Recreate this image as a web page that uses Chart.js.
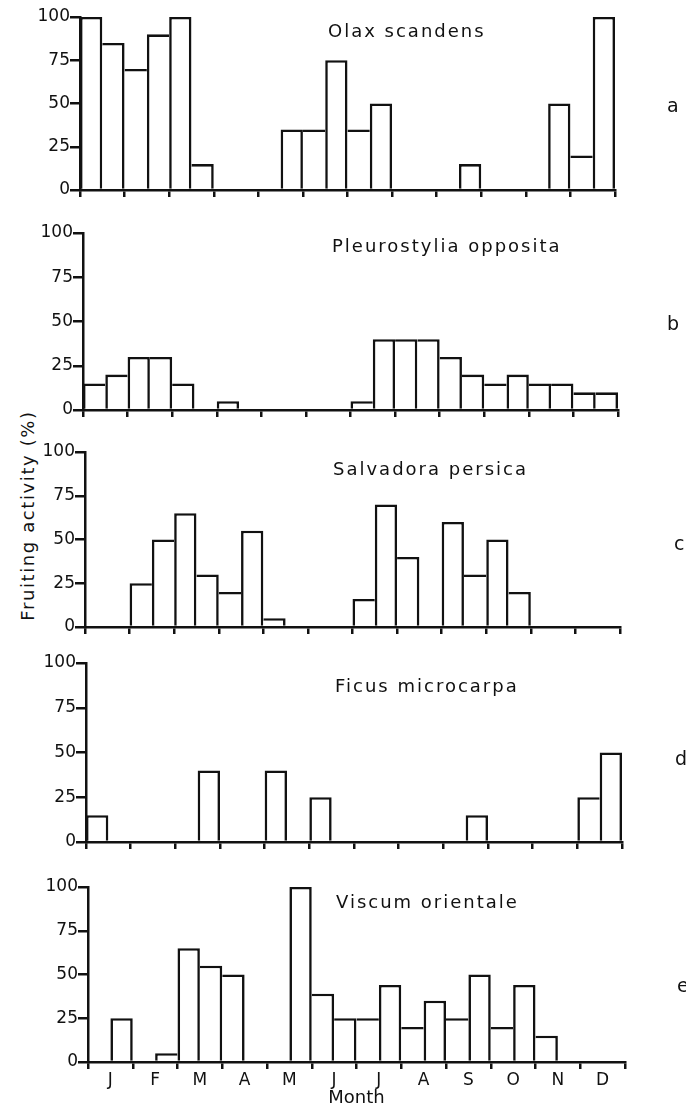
<!DOCTYPE html>
<html>
<head>
<meta charset="utf-8">
<script src="https://cdn.jsdelivr.net/npm/chart.js@4"></script>
<style>
  body { margin: 0; background: #fff; width: 686px; height: 1109px; position: relative; overflow: hidden; }
  canvas { position: absolute; left: 0; }
  #ytitle {
    position: absolute; left: -93px; top: 505px; width: 240px; text-align: center;
    font: 18px "DejaVu Sans", sans-serif; letter-spacing: 1.6px; color: #111;
    transform: rotate(-90deg);
  }
</style>
</head>
<body>
<div id="ytitle">Fruiting activity (%)</div>
<script>
// half-month bins, Jan to Dec
const halfMonths = ['Jan 1','Jan 2','Feb 1','Feb 2','Mar 1','Mar 2','Apr 1','Apr 2','May 1','May 2','Jun 1','Jun 2',
                    'Jul 1','Jul 2','Aug 1','Aug 2','Sep 1','Sep 2','Oct 1','Oct 2','Nov 1','Nov 2','Dec 1','Dec 2'];
const monthLetters = ['J','F','M','A','M','J','J','A','S','O','N','D'];
const yTicks = [0, 25, 50, 75, 100];
const species = ['Olax scandens', 'Pleurostylia opposita', 'Salvadora persica', 'Ficus microcarpa', 'Viscum orientale'];
const panelLetters = ['a', 'b', 'c', 'd', 'e'];

const olax         = [100, 85, 70, 90, 100, 15, 0, 0, 0, 35, 35, 75, 35, 50, 0, 0, 0, 15, 0, 0, 0, 50, 20, 100];
const pleurostylia = [15, 20, 30, 30, 15, 0, 5, 0, 0, 0, 0, 0, 5, 40, 40, 40, 30, 20, 15, 20, 15, 15, 10, 10];
const salvadora    = [0, 0, 25, 50, 65, 30, 20, 55, 5, 0, 0, 0, 16, 70, 40, 0, 60, 30, 50, 20, 0, 0, 0, 0];
const ficus        = [15, 0, 0, 0, 0, 40, 0, 0, 40, 0, 25, 0, 0, 0, 0, 0, 0, 15, 0, 0, 0, 0, 25, 50];
const viscum       = [0, 25, 0, 5, 65, 55, 50, 0, 0, 100, 39, 25, 25, 44, 20, 35, 25, 50, 20, 44, 15, 0, 0, 0];
const series = [olax, pleurostylia, salvadora, ficus, viscum];

// page placement of each panel (axis left/right, y of 100 and 0, title and letter spots)
const panels = [
  { left: 80, right: 615, top: 17,  bottom: 190,  title: [328, 32],  letter: [667, 107] },
  { left: 83, right: 618, top: 233, bottom: 410,  title: [332, 247], letter: [667, 325] },
  { left: 85, right: 620, top: 452, bottom: 627,  title: [333, 470], letter: [674, 545] },
  { left: 86, right: 622, top: 663, bottom: 842,  title: [335, 687], letter: [675, 760] },
  { left: 88, right: 625, top: 887, bottom: 1062, title: [336, 903], letter: [677, 987] }
];

const INK = '#111';
const FONT = '"DejaVu Sans", sans-serif';
const PAD = 14;
const LW = 2.6;

// shared edges between neighbouring bars are drawn once, by the taller bar
function edgeWidths(c) {
  const d = c.dataset.data, i = c.dataIndex, v = d[i];
  const prev = i > 0 ? d[i - 1] : 0;
  const next = i < d.length - 1 ? d[i + 1] : 0;
  return { top: LW, bottom: 0, left: v > prev ? LW : 0, right: v >= next ? LW : 0 };
}

const panelText = {
  id: 'panelText',
  afterDraw(chart, args, opts) {
    const ctx = chart.ctx;
    ctx.save();
    ctx.fillStyle = INK;
    ctx.textBaseline = 'middle';
    ctx.font = '18px ' + FONT;
    ctx.letterSpacing = '2px';
    ctx.fillText(opts.title, opts.tx, opts.ty);
    ctx.letterSpacing = '0px';
    ctx.font = '19px ' + FONT;
    ctx.fillText(opts.letter, opts.lx, opts.ly);
    ctx.restore();
  }
};

panels.forEach((p, i) => {
  const last = i === panels.length - 1;
  const axisH = last ? 1109 - p.bottom : 14;
  const canvasTop = p.top - PAD;
  const h = PAD + (p.bottom - p.top) + axisH;
  const canvas = document.createElement('canvas');
  canvas.width = 686; canvas.height = h;
  canvas.style.top = canvasTop + 'px';
  canvas.style.width = '686px'; canvas.style.height = h + 'px';
  document.body.appendChild(canvas);

  new Chart(canvas, {
    type: 'bar',
    data: {
      labels: halfMonths,
      datasets: [{
        data: series[i],
        backgroundColor: '#fff',
        borderColor: INK,
        borderWidth: edgeWidths,
        inflateAmount: 0,
        categoryPercentage: 1,
        barPercentage: 1,
        clip: false
      }]
    },
    options: {
      responsive: false,
      animation: false,
      layout: { padding: { top: PAD, right: 686 - p.right, left: 0, bottom: 0 } },
      plugins: {
        legend: { display: false },
        tooltip: { enabled: false },
        panelText: {
          title: species[i], letter: panelLetters[i],
          tx: p.title[0], ty: p.title[1] - canvasTop,
          lx: p.letter[0], ly: p.letter[1] - canvasTop
        }
      },
      scales: {
        x: {
          offset: true,
          grid: {
            offset: true, drawOnChartArea: false, drawTicks: true, tickLength: 7, lineWidth: 2.5,
            tickColor: c => (c.index === undefined || c.index % 2 === 0) ? INK : 'rgba(0,0,0,0)'
          },
          border: { color: INK, width: 2.5 },
          ticks: {
            display: last, autoSkip: false, maxRotation: 0, padding: 1,
            labelOffset: (p.right - p.left) / 48,
            color: INK, font: { family: FONT, size: 17 },
            callback: (v, idx) => idx % 2 === 0 ? monthLetters[idx / 2] : ''
          },
          title: { display: last, text: 'Month', color: INK, font: { family: FONT, size: 18 }, padding: { top: 0, bottom: 0 } },
          afterFit: s => { s.height = axisH; }
        },
        y: {
          min: 0, max: 100,
          afterBuildTicks: s => { s.ticks = yTicks.map(v => ({ value: v })); },
          grid: { drawOnChartArea: false, tickLength: 10, lineWidth: 2.5, color: INK },
          border: { color: INK, width: 2.5 },
          ticks: { padding: 0, color: INK, font: { family: FONT, size: 17 } },
          afterFit: s => { s.width = p.left; }
        }
      }
    },
    plugins: [panelText]
  });
});
</script>
</body>
</html>
